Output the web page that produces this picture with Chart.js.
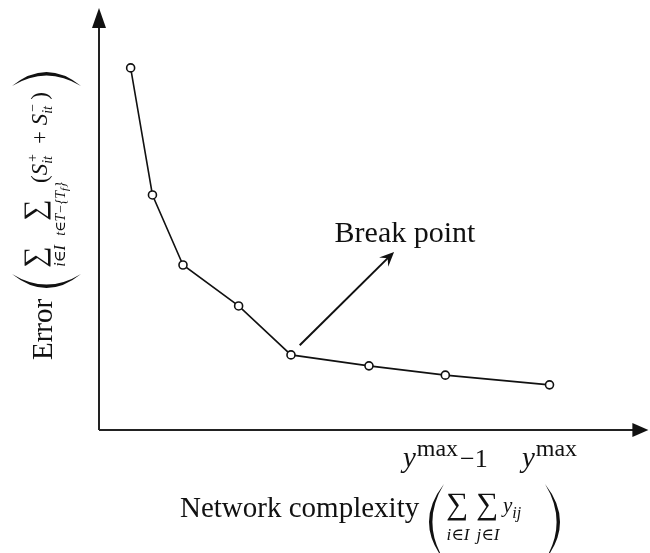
<!DOCTYPE html>
<html>
<head>
<meta charset="utf-8">
<script src="https://cdn.jsdelivr.net/npm/chart.js@4/dist/chart.umd.min.js"></script>
<style>
  html, body { margin: 0; padding: 0; background: #fff; }
  #wrap { width: 650px; height: 553px; position: relative; }
</style>
</head>
<body>
<div id="wrap"><canvas id="curve"></canvas></div>
<script>
// network complexity (x) vs. error (y), arbitrary units 0..100
const complexity = [5.8, 9.8, 15.4, 25.6, 35.2, 49.5, 63.5, 82.6];
const errorValues = [85.8, 55.7, 39.1, 29.4, 17.8, 15.2, 13.0, 10.7];
// labelled ticks: point index and the text after y^max
const tickIndex = [6, 7];
const tickSuffix = ['\u22121', ''];
// break point annotation (data units)
const breakIndex = 4;
const breakArrow = { from: [36.8, 20.1], to: [54.1, 42.2], text: [43.2, 44.5] };

const SERIF = '"Liberation Serif", "DejaVu Serif", serif';
const INK = '#111';

function font(size, italic) {
    return (italic ? 'italic ' : '') + size + 'px ' + SERIF;
}

// draws a run of text pieces left to right, returns end x
function run(ctx, x, y, parts) {
    parts.forEach(function (p) {
        ctx.font = font(p.size, p.italic);
        ctx.fillText(p.t, x + (p.dx || 0), y + (p.dy || 0));
        x += ctx.measureText(p.t).width + (p.dx || 0);
    });
    return x;
}

function runWidth(ctx, parts) {
    var w = 0;
    parts.forEach(function (p) {
        ctx.font = font(p.size, p.italic);
        w += ctx.measureText(p.t).width + (p.dx || 0);
    });
    return w;
}

function centered(ctx, cx, y, parts) {
    run(ctx, cx - runWidth(ctx, parts) / 2, y, parts);
}

// big paren as a filled crescent; tip = x of the ends, bulge = x of the middle
function paren(ctx, tip, bulge, top, bot) {
    var mid = (top + bot) / 2;
    var t = bulge < tip ? 3.4 : -3.4;
    ctx.beginPath();
    ctx.moveTo(tip, top);
    ctx.quadraticCurveTo(2 * bulge - tip, mid, tip, bot);
    ctx.quadraticCurveTo(2 * (bulge + t) - tip, mid, tip, top);
    ctx.fill();
}

function sigma(ctx, cx, y, size, sub, subY) {
    ctx.font = font(size);
    ctx.textAlign = 'center';
    ctx.fillText('\u2211', cx, y);
    ctx.textAlign = 'left';
    centered(ctx, cx + 1, y + subY, sub);
}

// S with stacked superscript and "it" subscript, returns end x
function sTerm(ctx, x, y, sup) {
    x = run(ctx, x, y, [{ t: 'S', size: 23, italic: true }]);
    ctx.font = font(14, true);
    ctx.fillText(sup, x + 1, y - 10);
    ctx.fillText('it', x, y + 5);
    return x + 14;
}

const decorations = {
    id: 'decorations',
    beforeDatasetsDraw(chart) {
        const ctx = chart.ctx;
        const a = chart.chartArea;
        ctx.save();
        ctx.strokeStyle = '#222';
        ctx.fillStyle = '#111';
        ctx.lineWidth = 2;
        // axes with arrowheads
        ctx.beginPath();
        ctx.moveTo(a.left, a.bottom);
        ctx.lineTo(a.left, a.top + 16);
        ctx.moveTo(a.left, a.bottom);
        ctx.lineTo(a.right - 10, a.bottom);
        ctx.stroke();
        ctx.beginPath();
        ctx.moveTo(a.left, a.top);
        ctx.lineTo(a.left - 7, a.top + 20);
        ctx.lineTo(a.left + 7, a.top + 20);
        ctx.closePath();
        ctx.fill();
        ctx.beginPath();
        ctx.moveTo(a.right + 4, a.bottom);
        ctx.lineTo(a.right - 12, a.bottom - 7);
        ctx.lineTo(a.right - 12, a.bottom + 7);
        ctx.closePath();
        ctx.fill();
        ctx.restore();
    },
    afterDraw(chart) {
        const ctx = chart.ctx;
        const xs = chart.scales.x, ys = chart.scales.y;
        ctx.save();
        ctx.fillStyle = INK;
        ctx.strokeStyle = INK;
        ctx.textBaseline = 'alphabetic';

        // tick labels under the last two points
        tickIndex.forEach(function (idx, k) {
            const parts = [
                { t: 'y', size: 29, italic: true },
                { t: 'max', size: 24, dy: -11, dx: 1 }
            ];
            if (tickSuffix[k]) parts.push({ t: tickSuffix[k], size: 26, dx: 2 });
            centered(ctx, xs.getPixelForValue(complexity[idx]), 467, parts);
        });

        // break point arrow
        const x0 = xs.getPixelForValue(breakArrow.from[0]), y0 = ys.getPixelForValue(breakArrow.from[1]);
        const x1 = xs.getPixelForValue(breakArrow.to[0]), y1 = ys.getPixelForValue(breakArrow.to[1]);
        const ang = Math.atan2(y1 - y0, x1 - x0);
        ctx.lineWidth = 2;
        ctx.beginPath();
        ctx.moveTo(x0, y0);
        ctx.lineTo(x1 - 6 * Math.cos(ang), y1 - 6 * Math.sin(ang));
        ctx.stroke();
        ctx.beginPath();
        ctx.moveTo(x1, y1);
        ctx.lineTo(x1 - 16 * Math.cos(ang - 0.42), y1 - 16 * Math.sin(ang - 0.42));
        ctx.lineTo(x1 - 9 * Math.cos(ang), y1 - 9 * Math.sin(ang));
        ctx.lineTo(x1 - 16 * Math.cos(ang + 0.42), y1 - 16 * Math.sin(ang + 0.42));
        ctx.closePath();
        ctx.fill();
        ctx.font = font(30);
        ctx.fillText('Break point', xs.getPixelForValue(breakArrow.text[0]), ys.getPixelForValue(breakArrow.text[1]));

        // x axis title
        ctx.font = font(29);
        ctx.fillText('Network complexity', 180, 517);
        paren(ctx, 444, 429, 484, 560);
        sigma(ctx, 457, 514, 31, [{ t: 'i\u2208I', size: 17, italic: true }], 26);
        sigma(ctx, 487, 514, 31, [{ t: 'j\u2208I', size: 17, italic: true }], 26);
        run(ctx, 503, 512, [
            { t: 'y', size: 21, italic: true },
            { t: 'ij', size: 16, italic: true, dy: 6 }
        ]);
        paren(ctx, 545, 560, 484, 560);

        // y axis title, rotated to read bottom-up
        ctx.translate(52, 360);
        ctx.rotate(-Math.PI / 2);
        ctx.font = font(29);
        ctx.fillText('Error', 0, 0);
        paren(ctx, 86, 72, -40, 29);
        sigma(ctx, 103, -8, 30, [{ t: 'i\u2208I', size: 16, italic: true }], 21);
        sigma(ctx, 150, -8, 30, [
            { t: 't\u2208T\u2212{T', size: 14, italic: true },
            { t: 'f', size: 11, italic: true, dy: 3 },
            { t: '}', size: 14, italic: true }
        ], 21);
        // summand (S+ + S-)
        var sx = run(ctx, 177, -5, [{ t: '(', size: 23 }]);
        sx = sTerm(ctx, sx, -5, '+');
        sx = run(ctx, sx, -5, [{ t: ' + ', size: 23 }]);
        sx = sTerm(ctx, sx, -5, '\u2212');
        run(ctx, sx, -5, [{ t: ')', size: 23 }]);
        paren(ctx, 274, 288, -40, 29);
        ctx.restore();
    }
};

new Chart(document.getElementById('curve'), {
    type: 'scatter',
    data: {
        datasets: [{
            data: complexity.map(function (c, i) { return { x: c, y: errorValues[i] }; }),
            showLine: true,
            borderColor: INK,
            borderWidth: 1.6,
            pointRadius: 4,
            pointBorderWidth: 1.6,
            pointBackgroundColor: '#fff',
            pointBorderColor: INK,
            clip: false
        }]
    },
    options: {
        responsive: true,
        maintainAspectRatio: false,
        animation: false,
        layout: { padding: { left: 99, top: 8, right: 0, bottom: 123 } },
        scales: {
            x: { type: 'linear', min: 0, max: 100, display: false },
            y: { type: 'linear', min: 0, max: 100, display: false }
        },
        plugins: {
            legend: { display: false },
            tooltip: { enabled: false }
        }
    },
    plugins: [decorations]
});
</script>
</body>
</html>
